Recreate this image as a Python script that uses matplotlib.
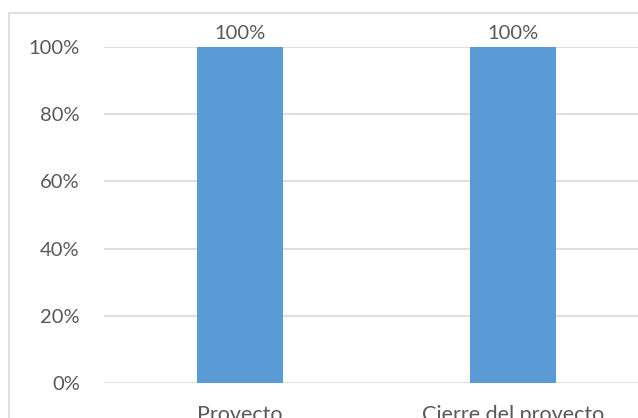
import matplotlib
matplotlib.use("Agg")
from matplotlib import pyplot as plt
from matplotlib.patches import Rectangle
from matplotlib.ticker import PercentFormatter

categories = ['Proyecto', 'Cierre del proyecto']
values = [1.0, 1.0]
yticks = [0, 0.2, 0.4, 0.6, 0.8, 1.0]

bar_color = '#5B9BD5'
text_color = '#595959'
grid_color = '#D9D9D9'

plt.rcParams['font.family'] = ['Lato', 'DejaVu Sans']

W, H = 638, 418
fig = plt.figure(figsize=(W / 100, H / 100), dpi=100)

# outer chart border (right and bottom edges fall outside the picture)
fig.patches.append(Rectangle((9 / W, -0.1), 1.2, (H - 13) / H + 0.1,
                             transform=fig.transFigure, fill=False,
                             edgecolor=grid_color, linewidth=1.2))

# plot area runs past the right edge of the image, as in the reference
ax = fig.add_axes([103.5 / W, (H - 383) / H, 546 / W, 336 / H])
x = range(len(categories))
bars = ax.bar(x, values, width=0.315, color=bar_color, zorder=3)
ax.bar_label(bars, labels=[f'{v:.0%}' for v in values], padding=3.5,
             color=text_color, fontsize=14.5)

ax.set_xlim(-0.5, 1.5)
ax.set_ylim(0, 1)
ax.set_yticks(yticks)
ax.yaxis.set_major_formatter(PercentFormatter(1.0, decimals=0))
ax.set_xticks(list(x))
ax.set_xticklabels(categories)
ax.tick_params(axis='both', length=0, labelcolor=text_color)
ax.tick_params(axis='y', pad=17, labelsize=14.5)
ax.tick_params(axis='x', pad=16, labelsize=15.5)
ax.grid(axis='y', color=grid_color, linewidth=1.2, zorder=0)
for s in ax.spines.values():
    s.set_visible(False)

fig.savefig('out.png', dpi=100)
